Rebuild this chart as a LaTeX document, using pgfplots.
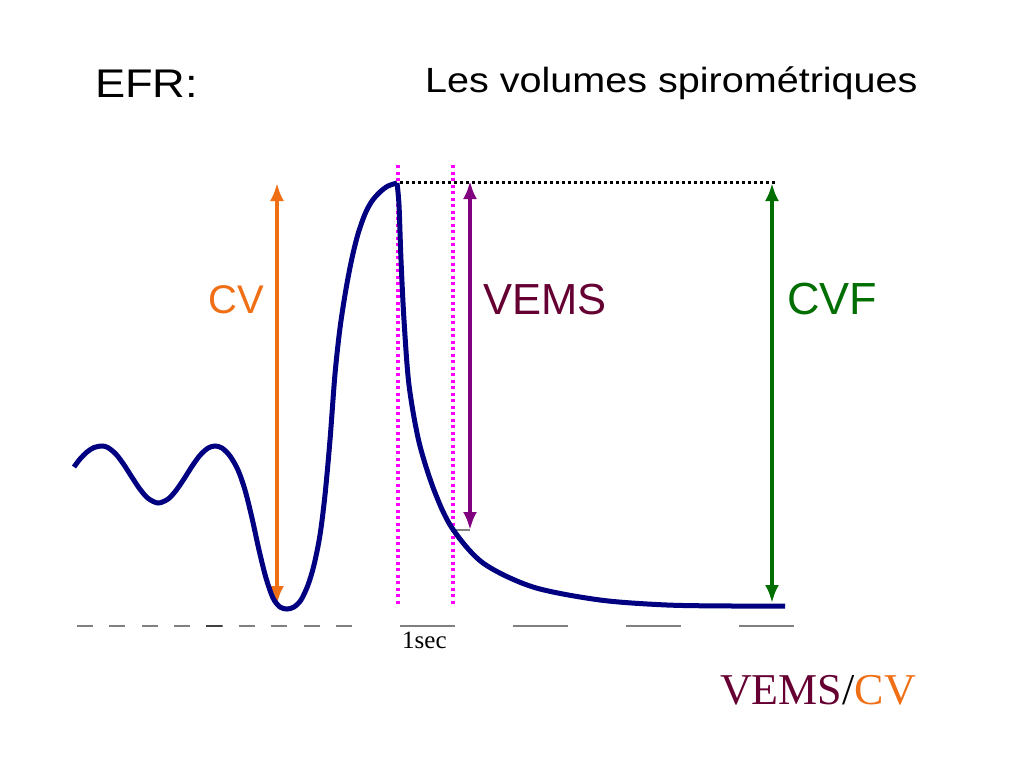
\documentclass[border=0pt]{standalone}
\usepackage{fontspec}
\setmainfont{Liberation Sans}
\newfontfamily\arialw[FakeStretch=1.13]{Liberation Sans}
\newfontfamily\timesf{Liberation Serif}
\usepackage{pgfplots}
\pgfplotsset{compat=1.18}
\usetikzlibrary{arrows.meta}
\definecolor{curveblue}{RGB}{0,0,128}
\definecolor{cvorange}{RGB}{240,110,20}
\definecolor{vemsarrow}{RGB}{128,0,128}
\definecolor{vemstext}{RGB}{102,0,51}
\definecolor{cvfgreen}{RGB}{0,110,0}
\definecolor{dotmag}{RGB}{255,0,255}
\definecolor{basegrey}{RGB}{128,128,128}
\begin{document}
\begin{tikzpicture}
\begin{axis}[
  scale only axis, width=1024bp, height=768bp,
  xmin=0, xmax=1024, ymin=0, ymax=768, y dir=reverse,
  hide axis, clip=false,
]
\path[fill=white] (axis cs:0,0) rectangle (axis cs:1024,768);
% baseline dashes
\addplot[basegrey, line width=1.8bp, dash pattern=on 16bp off 16.4bp] coordinates {(77,626) (352,626)};
\addplot[black!75, line width=1.8bp] coordinates {(206,626) (222,626)};
\addplot[basegrey, line width=1.8bp] coordinates {(400,626) (455,626)};
\addplot[basegrey, line width=1.8bp] coordinates {(513,626) (568,626)};
\addplot[basegrey, line width=1.8bp] coordinates {(626,626) (681,626)};
\addplot[basegrey, line width=1.8bp] coordinates {(739,626) (794,626)};
% dotted guides
\addplot[dotmag, line width=3.2bp, line cap=butt, dash pattern=on 3bp off 3.5bp] coordinates {(398,165) (398,606)};
\addplot[dotmag, line width=3.2bp, line cap=butt, dash pattern=on 3bp off 3.5bp] coordinates {(453,165) (453,606)};
\addplot[black, line width=3bp, line cap=butt, dash pattern=on 3bp off 3bp] coordinates {(400,182) (775,182)};
% grey tick at VEMS bottom
\addplot[basegrey, line width=2bp] coordinates {(452,530) (470,530)};
% arrows
\addplot[cvorange, line width=4bp, {Latex[length=18bp,width=14bp]}-{Latex[length=18bp,width=14bp]}] coordinates {(277,183) (277,604)};
\addplot[vemsarrow, line width=4bp, {Latex[length=18bp,width=14bp]}-{Latex[length=18bp,width=14bp]}] coordinates {(470,181) (470,530)};
\addplot[cvfgreen, line width=4bp, {Latex[length=18bp,width=14bp]}-{Latex[length=18bp,width=14bp]}] coordinates {(772,183) (772,603)};
% curve
\addplot[curveblue, line width=5bp, smooth, tension=0.5] coordinates {
(74,467) (80,459) (87,452) (94,447.5) (102,446) (108,447.6) (116,454.2) (124,464.8) (132,477.3) (140,489.2) (148,498.3) (158,503) (168,499.1) (176,490.5) (184,478.9) (192,466.3) (200,455.3) (208,448.1) (215,446)
(222,448) (230,456) (238,470) (245,490) (252,518) (259,550) (266,578) (273,598) (280,607) (287,609) (294,607) (301,600) (308,585) (314,565) (320,535) (325,495) (330,440) (335,374) (340,328) (346,289) (352,258) (358,234) (365,214) (372,201) (380,192) (388,186) (397,183)};
\addplot[curveblue, line width=5bp, smooth, tension=0.5] coordinates {
(397,183) (399,205) (401,260) (404,320) (409,385) (419,442) (434,490) (452,528) (483,563) (533,587) (600,600) (667,605) (733,606) (785,606)};
% texts
\node[anchor=base west, inner sep=0pt] at (axis cs:95,98) {\arialw\fontsize{40bp}{44bp}\selectfont EFR:};
\node[anchor=base west, inner sep=0pt] at (axis cs:425,93) {\arialw\fontsize{35bp}{42bp}\selectfont Les volumes spirométriques};
\node[anchor=base west, inner sep=0pt, text=cvorange] at (axis cs:208,313) {\fontsize{40bp}{48bp}\selectfont CV};
\node[anchor=base west, inner sep=0pt, text=vemstext] at (axis cs:483,314) {\fontsize{43.5bp}{48bp}\selectfont VEMS};
\node[anchor=base west, inner sep=0pt, text=cvfgreen] at (axis cs:787,314) {\fontsize{45bp}{48bp}\selectfont CVF};
\node[anchor=base west, inner sep=0pt] at (axis cs:402,648) {\timesf\fontsize{25bp}{28bp}\selectfont 1sec};
\node[anchor=base west, inner sep=0pt] at (axis cs:720,704) {\timesf\fontsize{44bp}{50bp}\selectfont \textcolor{vemstext}{VEMS}/\textcolor{cvorange}{CV}};
\end{axis}
\end{tikzpicture}
\end{document}
